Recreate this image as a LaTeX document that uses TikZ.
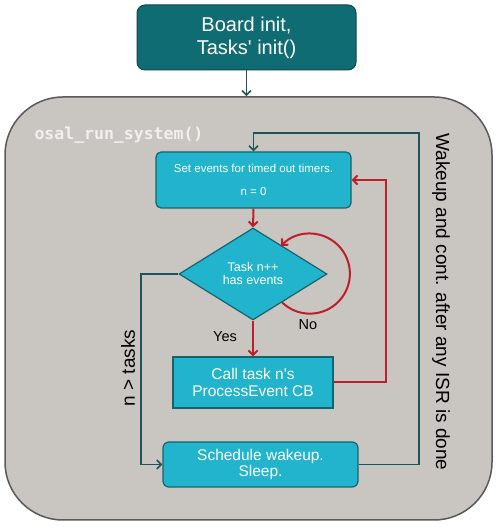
\documentclass[tikz,border=0pt]{standalone}
\usepackage{fontspec}
\setmainfont{Liberation Sans}
\setmonofont{DejaVu Sans Mono}
\usetikzlibrary{arrows.meta, positioning, shapes.geometric, calc}
\definecolor{osaldark}{RGB}{14,108,114}
\definecolor{osalcyan}{RGB}{34,180,205}
\definecolor{osaledge}{RGB}{20,100,108}
\definecolor{osalline}{RGB}{30,84,88}
\definecolor{osalgray}{RGB}{201,197,193}
\definecolor{osalred}{RGB}{190,30,42}
\tikzset{
  cbox/.style    = {draw=osaledge, line width=1.2pt, fill=osalcyan, text=white,
                    align=center, inner sep=0pt},
  tarrow/.style  = {-{Straight Barb[length=4.5pt,width=9pt]}, line width=1.6pt, color=osalline},
  rarrow/.style  = {-{Straight Barb[length=4.5pt,width=9pt]}, line width=2pt, color=osalred},
}

\begin{document}
\begin{tikzpicture}[
    x=1pt, y=1pt,
    board/.style={draw=osaledge!70!black, line width=1pt, fill=osaldark, text=white,
                  rounded corners=8pt, minimum width=219pt, minimum height=65pt,
                  align=center, font=\fontsize{20}{23}\selectfont},
    sysbox/.style={draw=black!65, line width=1.5pt, fill=osalgray, rounded corners=58pt,
                   minimum width=487pt, minimum height=423pt},
    decision/.style={diamond, draw=osaledge, line width=1.2pt, fill=osalcyan, text=white,
                     minimum width=148pt, minimum height=92pt, inner sep=0pt, align=center,
                     font=\fontsize{12.5}{13}\selectfont},
    lbl/.style={font=\fontsize{14.5}{16}\selectfont}
]
\useasboundingbox (0,0) rectangle (496,526);

\node[sysbox] (sys) at (248.5,217.5) {};
\node[board] (board) at (246.5,488.5) {Board init,\\Tasks\textquotesingle{} init()};
\draw[tarrow] (board.south) -- (board.south |- sys.north);

\node[anchor=west, text=white!94!black, font=\ttfamily\bfseries\fontsize{16.5}{18}\selectfont]
  (osal) at (31,391) {osal\_run\_system()};

\node[cbox, rounded corners=5pt, minimum width=195pt, minimum height=56pt,
      font=\fontsize{11.5}{13.8}\selectfont] (setev) at (253.5,346)
  {Set events for timed out timers.\\[9pt]n = 0};
\node[decision] (task) at (253,252) {Task n++\\has events};
\node[cbox, minimum width=160pt, minimum height=51pt,
      font=\fontsize{15.5}{16.5}\selectfont] (call) at (253,143.5)
  {Call task n\textquotesingle s\\ProcessEvent CB};
\node[cbox, rounded corners=6pt, minimum width=195pt, minimum height=45pt,
      font=\fontsize{15.5}{16.5}\selectfont] (sched) at (260.5,61.5)
  {Schedule wakeup.\\Sleep.};

\coordinate (wake) at (419,393);
\coordinate (back) at (386,346);
\coordinate (skip) at (141,252);
\coordinate (loopA) at ($(task.south)!0.39!(task.east)$);

\draw[rarrow] (setev.south) -- (task.north);
\draw[rarrow] (task.south) -- (call.north);
\draw[rarrow] (loopA) arc[start angle=-134, end angle=136, radius=40];
\draw[rarrow] (call.east) -| (back) -- (setev.east);
\draw[tarrow] (task.west) -- (skip) |- (sched.west);
\draw[tarrow] (sched.east) -| (wake) -| (setev.north);

\node[lbl] (yes) at (225,189) {Yes};
\node[lbl] (no) at (308,201) {No};
\node[rotate=90, font=\fontsize{19}{21}\selectfont] (ntasks) at (128,158) {n > tasks};
\node[rotate=-90, font=\fontsize{19}{21}\selectfont] (wakeup) at (441,224)
  {Wakeup and cont. after any ISR is done};
\end{tikzpicture}
\end{document}
